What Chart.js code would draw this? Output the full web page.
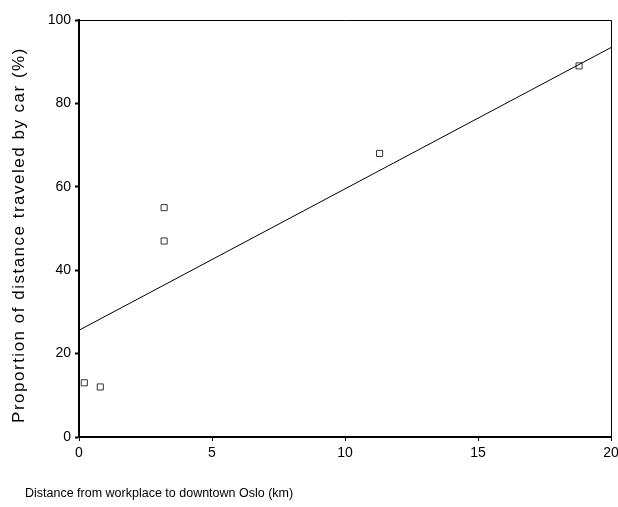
<!DOCTYPE html>
<html><head><meta charset="utf-8">
<script src="https://cdn.jsdelivr.net/npm/chart.js@4"></script>
<style>html,body{margin:0;padding:0;background:#fff}#wrap{width:618px;height:507px}</style>
</head><body><div id="wrap"><canvas id="c" width="618" height="507"></canvas></div>
<script>
const distanceKm = [0.2, 0.8, 3.2, 3.2, 11.3, 18.8];
const carShare = [13, 12, 55, 47, 68, 89];
const fitX = [0, 20];
const fitY = [25.6, 93.4];
const xTicks = [0, 5, 10, 15, 20];
const yTicks = [0, 20, 40, 60, 80, 100];
const xTitle = 'Distance from workplace to downtown Oslo (km)';
const yTitle = 'Proportion of distance traveled by car (%)';

const framePlugin = {
  id: 'frame',
  afterDraw(chart) {
    const {ctx, chartArea: a} = chart;
    ctx.save();
    ctx.strokeStyle = '#000';
    ctx.lineWidth = 1;
    ctx.beginPath();
    ctx.moveTo(a.left, a.top + 0.5); ctx.lineTo(a.right + 0.5, a.top + 0.5);
    ctx.lineTo(a.right + 0.5, a.bottom);
    ctx.stroke();
    ctx.fillStyle = '#000';
    ctx.font = '12.5px "Liberation Sans", Arial, sans-serif';
    ctx.textBaseline = 'middle';
    ctx.textAlign = 'left';
    ctx.letterSpacing = '0px';
    ctx.fillText(xTitle, 25, 494);
    ctx.translate(19, 235);
    ctx.rotate(-Math.PI / 2);
    ctx.textAlign = 'center';
    ctx.font = '17px "Liberation Sans", Arial, sans-serif';
    ctx.letterSpacing = '1.5px';
    ctx.fillText(yTitle, 0, 0);
    ctx.restore();
  }
};

const tickFont = {size: 14, family: '"Liberation Sans", Arial, sans-serif'};

new Chart(document.getElementById('c'), {
  type: 'scatter',
  data: {
    datasets: [
      {
        type: 'line',
        data: fitX.map((x, i) => ({x, y: fitY[i]})),
        borderColor: '#000', borderWidth: 1, pointRadius: 0, fill: false
      },
      {
        data: distanceKm.map((x, i) => ({x, y: carShare[i]})),
        pointStyle: 'rect', pointRadius: 4.3, pointBorderWidth: 1,
        borderColor: '#333', backgroundColor: '#fff'
      }
    ]
  },
  options: {
    responsive: false, animation: false,
    layout: {padding: {left: 0, right: 7, top: 20, bottom: 0}},
    plugins: {legend: {display: false}, tooltip: {enabled: false}},
    scales: {
      x: {
        type: 'linear', min: 0, max: 20,
        afterBuildTicks: s => { s.ticks = xTicks.map(v => ({value: v})); },
        afterFit: s => { s.height = 70; s.paddingRight = 0; s.paddingLeft = 0; },
        grid: {drawOnChartArea: false, tickLength: 4, tickColor: '#000', tickWidth: 1},
        border: {display: true, color: '#000', width: 2},
        ticks: {color: '#000', padding: 4, font: tickFont, maxRotation: 0}
      },
      y: {
        type: 'linear', min: 0, max: 100,
        afterBuildTicks: s => { s.ticks = yTicks.map(v => ({value: v})); },
        afterFit: s => { s.width = 79; s.paddingTop = 0; s.paddingBottom = 0; },
        grid: {drawOnChartArea: false, tickLength: 4, tickColor: '#000', tickWidth: 2},
        border: {display: true, color: '#000', width: 2},
        ticks: {color: '#000', padding: 4, font: tickFont}
      }
    }
  },
  plugins: [framePlugin]
});
</script></body></html>
